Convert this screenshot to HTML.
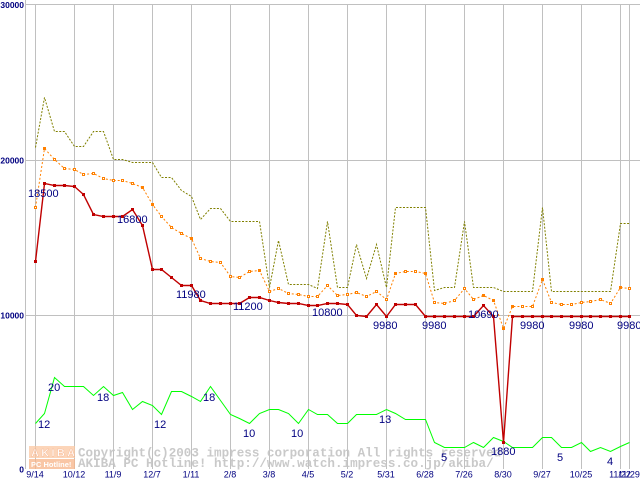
<!DOCTYPE html>
<html><head><meta charset="utf-8"><style>
html,body{margin:0;padding:0;background:#fff;width:640px;height:480px;overflow:hidden}
svg{display:block}
.yl{font-family:"Liberation Sans",sans-serif;font-weight:bold;font-size:8.5px;fill:#000080}
.xl{font-family:"Liberation Sans",sans-serif;font-size:9px;fill:#000080}
.dl{font-family:"Liberation Sans",sans-serif;font-size:11px;fill:#000080}
.wm{font-family:"Liberation Mono",monospace;font-weight:bold;font-size:12.6px;fill:#c4c4c4}
</style></head><body>
<svg width="640" height="480" viewBox="0 0 640 480" xmlns="http://www.w3.org/2000/svg">
<rect x="0" y="0" width="640" height="480" fill="#fff"/>
<g stroke="#c0c0c0" stroke-width="1" shape-rendering="crispEdges">
<line x1="25.5" y1="0" x2="25.5" y2="469"/>
<line x1="25" y1="4.5" x2="640" y2="4.5"/>
<line x1="25" y1="160.5" x2="640" y2="160.5"/>
<line x1="25" y1="315.5" x2="640" y2="315.5"/>
<line x1="35.5" y1="4" x2="35.5" y2="469"/>
<line x1="74.5" y1="4" x2="74.5" y2="469"/>
<line x1="113.5" y1="4" x2="113.5" y2="469"/>
<line x1="152.5" y1="4" x2="152.5" y2="469"/>
<line x1="191.5" y1="4" x2="191.5" y2="469"/>
<line x1="230.5" y1="4" x2="230.5" y2="469"/>
<line x1="269.5" y1="4" x2="269.5" y2="469"/>
<line x1="308.5" y1="4" x2="308.5" y2="469"/>
<line x1="347.5" y1="4" x2="347.5" y2="469"/>
<line x1="386.5" y1="4" x2="386.5" y2="469"/>
<line x1="425.5" y1="4" x2="425.5" y2="469"/>
<line x1="464.5" y1="4" x2="464.5" y2="469"/>
<line x1="503.5" y1="4" x2="503.5" y2="469"/>
<line x1="542.5" y1="4" x2="542.5" y2="469"/>
<line x1="581.5" y1="4" x2="581.5" y2="469"/>
<line x1="620.5" y1="4" x2="620.5" y2="469"/>
<line x1="629.5" y1="4" x2="629.5" y2="469"/>
</g>

<!-- watermark -->
<g opacity="0.75">
<rect x="29" y="446" width="46" height="12" fill="#fbc8a2"/>
<rect x="29" y="459" width="46" height="10" fill="#f8b488"/>
<text x="31" y="456.5" font-family="Liberation Sans,sans-serif" font-weight="bold" font-size="11px" fill="#fff" stroke="#f7a070" stroke-width="0.4" letter-spacing="2.3">AKIBA</text>
<text x="31" y="467" font-family="Liberation Sans,sans-serif" font-weight="bold" font-size="7.5px" fill="#fff">PC Hotline!</text>
</g>
<text class="wm" x="78" y="456.5" opacity="0.9">Copyright(c)2003 impress corporation All rights reserved</text>
<text class="wm" x="78" y="467" opacity="0.9">AKIBA PC Hotline!  http://www.watch.impress.co.jp/akiba/</text>

<g transform="translate(0.5,0.5)" fill="none">
<!-- olive max -->
<polyline stroke="#808000" stroke-width="1" stroke-dasharray="2,1.5" points="35,147 44,97 54,131 64,131 74,146 83,146 93,131 103,131 113,159 122,159 132,162 142,162 152,162 161,177 171,177 181,190 191,196 200,219 210,208 220,208 230,221 239,221 249,221 259,221 269,287 278,240 288,284 298,284 308,284 317,288 327,221 337,287 347,287 356,244 366,278 376,244 386,287 395,207 405,207 415,207 425,207 434,290 444,287 454,287 464,221 473,287 483,287 493,287 503,291 512,291 522,291 532,291 542,207 551,291 561,291 571,291 581,291 590,291 600,291 610,291 620,223 629,223"/>
<!-- orange avg -->
<polyline stroke="#ff8000" stroke-width="1" stroke-dasharray="2,2" points="35,207 44,148 54,159 64,168 74,169 83,174 93,173 103,178 113,180 122,180 132,183 142,187 152,204 161,216 171,227 181,233 191,238 200,258 210,261 220,262 230,276 239,277 249,271 259,270 269,291 278,288 288,293 298,294 308,296 317,296 327,285 337,295 347,294 356,292 366,296 376,291 386,299 395,273 405,271 415,271 425,273 434,302 444,303 454,300 464,288 473,299 483,295 493,300 503,328 512,306 522,306 532,306 542,279 551,302 561,304 571,304 581,302 590,301 600,299 610,303 620,287 629,288"/>
<!-- red min -->
<polyline stroke="#c00000" stroke-width="1.4" points="35,261 44,183 54,185 64,185 74,186 83,194 93,214 103,216 113,216 122,216 132,209 142,225 152,269 161,269 171,277 181,285 191,285 200,300 210,303 220,303 230,303 239,303 249,297 259,297 269,300 278,302 288,303 298,303 308,305 317,305 327,303 337,303 347,304 356,315 366,316 376,304 386,316 395,304 405,304 415,304 425,316 434,316 444,316 454,316 464,316 473,316 483,305 493,316 503,442 512,316 522,316 532,316 542,316 551,316 561,316 571,316 581,316 590,316 600,316 610,316 620,316 629,316"/>
<!-- green shops -->
<polyline stroke="#00ff00" stroke-width="1" points="35,423 44,413 54,377 64,386 74,386 83,386 93,395 103,386 113,395 122,392 132,409 142,401 152,405 161,414 171,391 181,391 191,396 200,401 210,386 220,400 230,414 239,418 249,423 259,413 269,409 278,409 288,413 298,423 308,409 317,414 327,414 337,423 347,423 356,414 366,414 376,414 386,409 395,413 405,419 415,419 425,419 434,442 444,447 454,447 464,447 473,442 483,447 493,437 503,441 512,447 522,447 532,447 542,437 551,437 561,447 571,447 581,442 590,451 600,447 610,451 620,446 629,442"/>
</g>

<!-- orange markers -->
<g fill="#ff8000" shape-rendering="crispEdges">
<rect x="34" y="206" width="3" height="3"/><rect x="43" y="147" width="3" height="3"/><rect x="53" y="158" width="3" height="3"/><rect x="63" y="167" width="3" height="3"/><rect x="73" y="168" width="3" height="3"/><rect x="82" y="173" width="3" height="3"/><rect x="92" y="172" width="3" height="3"/><rect x="102" y="177" width="3" height="3"/><rect x="112" y="179" width="3" height="3"/><rect x="121" y="179" width="3" height="3"/><rect x="131" y="182" width="3" height="3"/><rect x="141" y="186" width="3" height="3"/><rect x="151" y="203" width="3" height="3"/><rect x="160" y="215" width="3" height="3"/><rect x="170" y="226" width="3" height="3"/><rect x="180" y="232" width="3" height="3"/><rect x="190" y="237" width="3" height="3"/><rect x="199" y="257" width="3" height="3"/><rect x="209" y="260" width="3" height="3"/><rect x="219" y="261" width="3" height="3"/><rect x="229" y="275" width="3" height="3"/><rect x="238" y="276" width="3" height="3"/><rect x="248" y="270" width="3" height="3"/><rect x="258" y="269" width="3" height="3"/><rect x="268" y="290" width="3" height="3"/><rect x="277" y="287" width="3" height="3"/><rect x="287" y="292" width="3" height="3"/><rect x="297" y="293" width="3" height="3"/><rect x="307" y="295" width="3" height="3"/><rect x="316" y="295" width="3" height="3"/><rect x="326" y="284" width="3" height="3"/><rect x="336" y="294" width="3" height="3"/><rect x="346" y="293" width="3" height="3"/><rect x="355" y="291" width="3" height="3"/><rect x="365" y="295" width="3" height="3"/><rect x="375" y="290" width="3" height="3"/><rect x="385" y="298" width="3" height="3"/><rect x="394" y="272" width="3" height="3"/><rect x="404" y="270" width="3" height="3"/><rect x="414" y="270" width="3" height="3"/><rect x="424" y="272" width="3" height="3"/><rect x="433" y="301" width="3" height="3"/><rect x="443" y="302" width="3" height="3"/><rect x="453" y="299" width="3" height="3"/><rect x="463" y="287" width="3" height="3"/><rect x="472" y="298" width="3" height="3"/><rect x="482" y="294" width="3" height="3"/><rect x="492" y="299" width="3" height="3"/><rect x="502" y="327" width="3" height="3"/><rect x="511" y="305" width="3" height="3"/><rect x="521" y="305" width="3" height="3"/><rect x="531" y="305" width="3" height="3"/><rect x="541" y="278" width="3" height="3"/><rect x="550" y="301" width="3" height="3"/><rect x="560" y="303" width="3" height="3"/><rect x="570" y="303" width="3" height="3"/><rect x="580" y="301" width="3" height="3"/><rect x="589" y="300" width="3" height="3"/><rect x="599" y="298" width="3" height="3"/><rect x="609" y="302" width="3" height="3"/><rect x="619" y="286" width="3" height="3"/><rect x="628" y="287" width="3" height="3"/>
</g>
<g fill="#fff" shape-rendering="crispEdges">
<rect x="35" y="207" width="1" height="1"/><rect x="54" y="159" width="1" height="1"/><rect x="64" y="168" width="1" height="1"/><rect x="74" y="169" width="1" height="1"/><rect x="83" y="174" width="1" height="1"/><rect x="93" y="173" width="1" height="1"/><rect x="103" y="178" width="1" height="1"/><rect x="113" y="180" width="1" height="1"/><rect x="122" y="180" width="1" height="1"/><rect x="132" y="183" width="1" height="1"/><rect x="161" y="216" width="1" height="1"/><rect x="171" y="227" width="1" height="1"/><rect x="181" y="233" width="1" height="1"/><rect x="200" y="258" width="1" height="1"/><rect x="210" y="261" width="1" height="1"/><rect x="220" y="262" width="1" height="1"/><rect x="230" y="276" width="1" height="1"/><rect x="239" y="277" width="1" height="1"/><rect x="249" y="271" width="1" height="1"/><rect x="269" y="291" width="1" height="1"/><rect x="278" y="288" width="1" height="1"/><rect x="288" y="293" width="1" height="1"/><rect x="298" y="294" width="1" height="1"/><rect x="308" y="296" width="1" height="1"/><rect x="317" y="296" width="1" height="1"/><rect x="327" y="285" width="1" height="1"/><rect x="337" y="295" width="1" height="1"/><rect x="347" y="294" width="1" height="1"/><rect x="356" y="292" width="1" height="1"/><rect x="366" y="296" width="1" height="1"/><rect x="376" y="291" width="1" height="1"/><rect x="386" y="299" width="1" height="1"/><rect x="405" y="271" width="1" height="1"/><rect x="415" y="271" width="1" height="1"/><rect x="434" y="302" width="1" height="1"/><rect x="444" y="303" width="1" height="1"/><rect x="454" y="300" width="1" height="1"/><rect x="464" y="288" width="1" height="1"/><rect x="473" y="299" width="1" height="1"/><rect x="522" y="306" width="1" height="1"/><rect x="532" y="306" width="1" height="1"/><rect x="551" y="302" width="1" height="1"/><rect x="561" y="304" width="1" height="1"/><rect x="571" y="304" width="1" height="1"/><rect x="581" y="302" width="1" height="1"/><rect x="590" y="301" width="1" height="1"/><rect x="600" y="299" width="1" height="1"/><rect x="610" y="303" width="1" height="1"/><rect x="629" y="288" width="1" height="1"/>
</g>

<!-- red markers -->
<g fill="#c00000" shape-rendering="crispEdges">
<rect x="34" y="260" width="3" height="3"/><rect x="43" y="182" width="3" height="3"/><rect x="53" y="184" width="3" height="3"/><rect x="63" y="184" width="3" height="3"/><rect x="73" y="185" width="3" height="3"/><rect x="82" y="193" width="3" height="3"/><rect x="92" y="213" width="3" height="3"/><rect x="102" y="215" width="3" height="3"/><rect x="112" y="215" width="3" height="3"/><rect x="121" y="215" width="3" height="3"/><rect x="131" y="208" width="3" height="3"/><rect x="141" y="224" width="3" height="3"/><rect x="151" y="268" width="3" height="3"/><rect x="160" y="268" width="3" height="3"/><rect x="170" y="276" width="3" height="3"/><rect x="180" y="284" width="3" height="3"/><rect x="190" y="284" width="3" height="3"/><rect x="199" y="299" width="3" height="3"/><rect x="209" y="302" width="3" height="3"/><rect x="219" y="302" width="3" height="3"/><rect x="229" y="302" width="3" height="3"/><rect x="238" y="302" width="3" height="3"/><rect x="248" y="296" width="3" height="3"/><rect x="258" y="296" width="3" height="3"/><rect x="268" y="299" width="3" height="3"/><rect x="277" y="301" width="3" height="3"/><rect x="287" y="302" width="3" height="3"/><rect x="297" y="302" width="3" height="3"/><rect x="307" y="304" width="3" height="3"/><rect x="316" y="304" width="3" height="3"/><rect x="326" y="302" width="3" height="3"/><rect x="336" y="302" width="3" height="3"/><rect x="346" y="303" width="3" height="3"/><rect x="355" y="314" width="3" height="3"/><rect x="365" y="315" width="3" height="3"/><rect x="375" y="303" width="3" height="3"/><rect x="385" y="315" width="3" height="3"/><rect x="394" y="303" width="3" height="3"/><rect x="404" y="303" width="3" height="3"/><rect x="414" y="303" width="3" height="3"/><rect x="424" y="315" width="3" height="3"/><rect x="433" y="315" width="3" height="3"/><rect x="443" y="315" width="3" height="3"/><rect x="453" y="315" width="3" height="3"/><rect x="463" y="315" width="3" height="3"/><rect x="472" y="315" width="3" height="3"/><rect x="482" y="304" width="3" height="3"/><rect x="492" y="315" width="3" height="3"/><rect x="502" y="441" width="3" height="3"/><rect x="511" y="315" width="3" height="3"/><rect x="521" y="315" width="3" height="3"/><rect x="531" y="315" width="3" height="3"/><rect x="541" y="315" width="3" height="3"/><rect x="550" y="315" width="3" height="3"/><rect x="560" y="315" width="3" height="3"/><rect x="570" y="315" width="3" height="3"/><rect x="580" y="315" width="3" height="3"/><rect x="589" y="315" width="3" height="3"/><rect x="599" y="315" width="3" height="3"/><rect x="609" y="315" width="3" height="3"/><rect x="619" y="315" width="3" height="3"/><rect x="628" y="315" width="3" height="3"/>
</g>

<!-- y axis labels -->
<text class="yl" x="24" y="7.8" text-anchor="end">30000</text>
<text class="yl" x="24" y="163.5" text-anchor="end">20000</text>
<text class="yl" x="24" y="318.3" text-anchor="end">10000</text>
<text class="yl" x="24" y="472.5" text-anchor="end">0</text>

<!-- x axis labels -->
<g class="xl" text-anchor="middle">
<text x="35" y="477.5">9/14</text>
<text x="74" y="477.5">10/12</text>
<text x="113" y="477.5">11/9</text>
<text x="152" y="477.5">12/7</text>
<text x="191" y="477.5">1/11</text>
<text x="230" y="477.5">2/8</text>
<text x="269" y="477.5">3/8</text>
<text x="308" y="477.5">4/5</text>
<text x="347" y="477.5">5/2</text>
<text x="386" y="477.5">5/31</text>
<text x="425" y="477.5">6/28</text>
<text x="464" y="477.5">7/26</text>
<text x="503" y="477.5">8/30</text>
<text x="542" y="477.5">9/27</text>
<text x="581" y="477.5">10/25</text>
<text x="620" y="477.5">11/22</text>
<text x="629" y="477.5">11/29</text>
</g>

<!-- data labels -->
<g class="dl">
<text x="28" y="197">18500</text>
<text x="117" y="223">16800</text>
<text x="176" y="298">11980</text>
<text x="233" y="310">11200</text>
<text x="312" y="316">10800</text>
<text x="373" y="329">9980</text>
<text x="422" y="329">9980</text>
<text x="468" y="318">10690</text>
<text x="520" y="329">9980</text>
<text x="569" y="329">9980</text>
<text x="617" y="329">9980</text>
<text x="38" y="428">12</text>
<text x="48" y="391">20</text>
<text x="97" y="401">18</text>
<text x="154" y="428">12</text>
<text x="203" y="401">18</text>
<text x="243" y="437">10</text>
<text x="291" y="437">10</text>
<text x="379" y="423">13</text>
<text x="441" y="461">5</text>
<text x="491" y="455">1880</text>
<text x="557" y="461">5</text>
<text x="607" y="465">4</text>
</g>
</svg>
</body></html>
